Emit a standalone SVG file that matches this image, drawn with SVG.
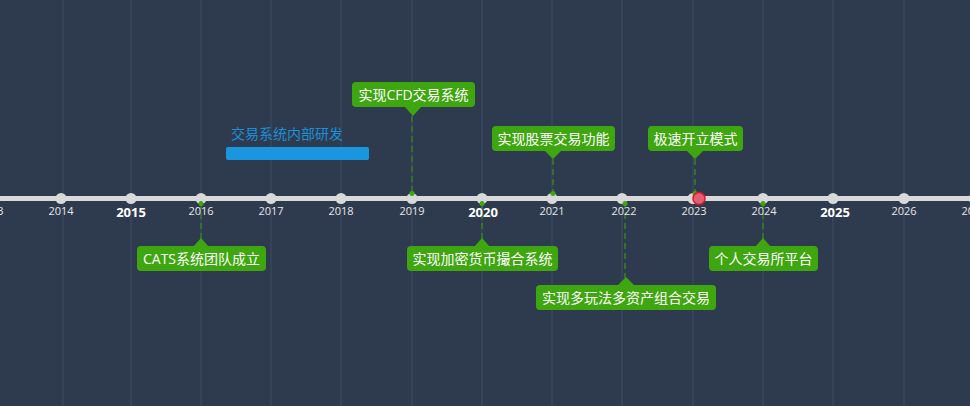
<svg xmlns="http://www.w3.org/2000/svg" width="970" height="406" viewBox="0 0 970 406">
<style>
.grid{stroke:#35435a;stroke-width:2}
.yr{font-family:"Open Sans","Noto Sans CJK SC",sans-serif;font-size:11px;fill:#e6e6e6;text-anchor:middle}
.yrb{font-family:"Open Sans","Noto Sans CJK SC",sans-serif;font-size:13px;font-weight:bold;fill:#ffffff;text-anchor:middle}
.dot{fill:#d9d9d9}
.box{fill:#3ea60f}
.lbl{font-family:"Open Sans","Noto Sans CJK SC",sans-serif;font-size:14px;fill:#ffffff;text-anchor:middle}
.dash{stroke:#36702c;stroke-width:2;stroke-dasharray:6 4;fill:none}
.gm{fill:#3ea60f}
</style>
<rect width="970" height="406" fill="#2e3b4e"/>
<g id="grid">
<line class="grid" x1="63" y1="0" x2="63" y2="406"/>
<line class="grid" x1="131" y1="0" x2="131" y2="406"/>
<line class="grid" x1="201" y1="0" x2="201" y2="406"/>
<line class="grid" x1="271" y1="0" x2="271" y2="406"/>
<line class="grid" x1="341" y1="0" x2="341" y2="406"/>
<line class="grid" x1="412" y1="0" x2="412" y2="406"/>
<line class="grid" x1="482" y1="0" x2="482" y2="406"/>
<line class="grid" x1="552" y1="0" x2="552" y2="406"/>
<line class="grid" x1="622" y1="0" x2="622" y2="406"/>
<line class="grid" x1="693" y1="0" x2="693" y2="406"/>
<line class="grid" x1="763" y1="0" x2="763" y2="406"/>
<line class="grid" x1="833" y1="0" x2="833" y2="406"/>
<line class="grid" x1="904" y1="0" x2="904" y2="406"/>
</g>
<g id="connectors">
<line class="dash" x1="201" y1="203" x2="201" y2="240"/>
<line class="dash" x1="412" y1="116" x2="412" y2="195"/>
<line class="dash" x1="482" y1="203" x2="482" y2="240"/>
<line class="dash" x1="553" y1="159" x2="553" y2="195"/>
<line class="dash" x1="625" y1="203" x2="625" y2="278"/>
<line class="dash" x1="695" y1="159" x2="695" y2="195"/>
<line class="dash" x1="763" y1="203" x2="763" y2="240"/>
</g>
<g id="axis">
<line x1="0" y1="198.5" x2="970" y2="198.5" stroke="#d9d9d9" stroke-width="5"/>
<circle class="dot" cx="-9" cy="198.5" r="5.5"/>
<circle class="dot" cx="61" cy="198.5" r="5.5"/>
<circle class="dot" cx="131" cy="198.5" r="5.5"/>
<circle class="dot" cx="201" cy="198.5" r="5.5"/>
<circle class="dot" cx="271" cy="198.5" r="5.5"/>
<circle class="dot" cx="341" cy="198.5" r="5.5"/>
<circle class="dot" cx="412" cy="198.5" r="5.5"/>
<circle class="dot" cx="482" cy="198.5" r="5.5"/>
<circle class="dot" cx="552" cy="198.5" r="5.5"/>
<circle class="dot" cx="622" cy="198.5" r="5.5"/>
<circle class="dot" cx="693" cy="198.5" r="5.5"/>
<circle class="dot" cx="763" cy="198.5" r="5.5"/>
<circle class="dot" cx="833" cy="198.5" r="5.5"/>
<circle class="dot" cx="904" cy="198.5" r="5.5"/>
<circle class="dot" cx="974" cy="198.5" r="5.5"/>
<circle class="gm" cx="201" cy="203.5" r="2.5"/>
<circle class="gm" cx="412" cy="193.5" r="2.5"/>
<circle class="gm" cx="482" cy="203.5" r="2.5"/>
<circle class="gm" cx="553" cy="193.5" r="2.5"/>
<circle class="gm" cx="625" cy="203.5" r="2.5"/>
<circle class="gm" cx="695" cy="193.5" r="2.5"/>
<circle class="gm" cx="763" cy="203.5" r="2.5"/>
<circle cx="699" cy="198.5" r="6" fill="#e0606e" stroke="#e0142e" stroke-width="1.5"/>
<text class="yr" x="-9" y="215">2013</text>
<text class="yr" x="61" y="215">2014</text>
<text class="yrb" x="131" y="217">2015</text>
<text class="yr" x="201" y="215">2016</text>
<text class="yr" x="271" y="215">2017</text>
<text class="yr" x="341" y="215">2018</text>
<text class="yr" x="412" y="215">2019</text>
<text class="yrb" x="483" y="217">2020</text>
<text class="yr" x="552" y="215">2021</text>
<text class="yr" x="624" y="215">2022</text>
<text class="yr" x="694" y="215">2023</text>
<text class="yr" x="764" y="215">2024</text>
<text class="yrb" x="835" y="217">2025</text>
<text class="yr" x="904" y="215">2026</text>
<text class="yr" x="974" y="215">2027</text>
</g>
<g id="range-internal">
<rect x="226" y="147" width="143" height="13" rx="2" fill="#1a96de"/>
<text x="231" y="139" font-family="'Open Sans','Noto Sans CJK SC',sans-serif" font-size="14" fill="#1a90d8">交易系统内部研发</text>
</g>
<g id="ev2016">
<rect class="box" x="137" y="246" width="129" height="25" rx="4"/>
<polygon class="box" points="193,247 201,238 209,247"/>
<text class="lbl" x="201.5" y="263.5">CATS系统团队成立</text>
</g>
<g id="ev2019">
<rect class="box" x="352" y="82" width="123" height="25" rx="4"/>
<polygon class="box" points="404,106 413,116 422,106"/>
<text class="lbl" x="413.5" y="99.5">实现CFD交易系统</text>
</g>
<g id="ev2020">
<rect class="box" x="407" y="246" width="151" height="25" rx="4"/>
<polygon class="box" points="474,247 482,238 490,247"/>
<text class="lbl" x="482.5" y="263.5">实现加密货币撮合系统</text>
</g>
<g id="ev2021">
<rect class="box" x="492" y="126" width="123" height="25" rx="4"/>
<polygon class="box" points="544,150 553,159 562,150"/>
<text class="lbl" x="553.5" y="143.5">实现股票交易功能</text>
</g>
<g id="ev2022">
<rect class="box" x="536" y="285" width="180" height="25" rx="4"/>
<polygon class="box" points="617,286 626,277 635,286"/>
<text class="lbl" x="626" y="302.5">实现多玩法多资产组合交易</text>
</g>
<g id="ev2023">
<rect class="box" x="648" y="126" width="95" height="25" rx="4"/>
<polygon class="box" points="686,150 695,159 704,150"/>
<text class="lbl" x="695.5" y="143.5">极速开立模式</text>
</g>
<g id="ev2024">
<rect class="box" x="709" y="246" width="109" height="25" rx="4"/>
<polygon class="box" points="755,247 763,238 771,247"/>
<text class="lbl" x="763.5" y="263.5">个人交易所平台</text>
</g>
</svg>
